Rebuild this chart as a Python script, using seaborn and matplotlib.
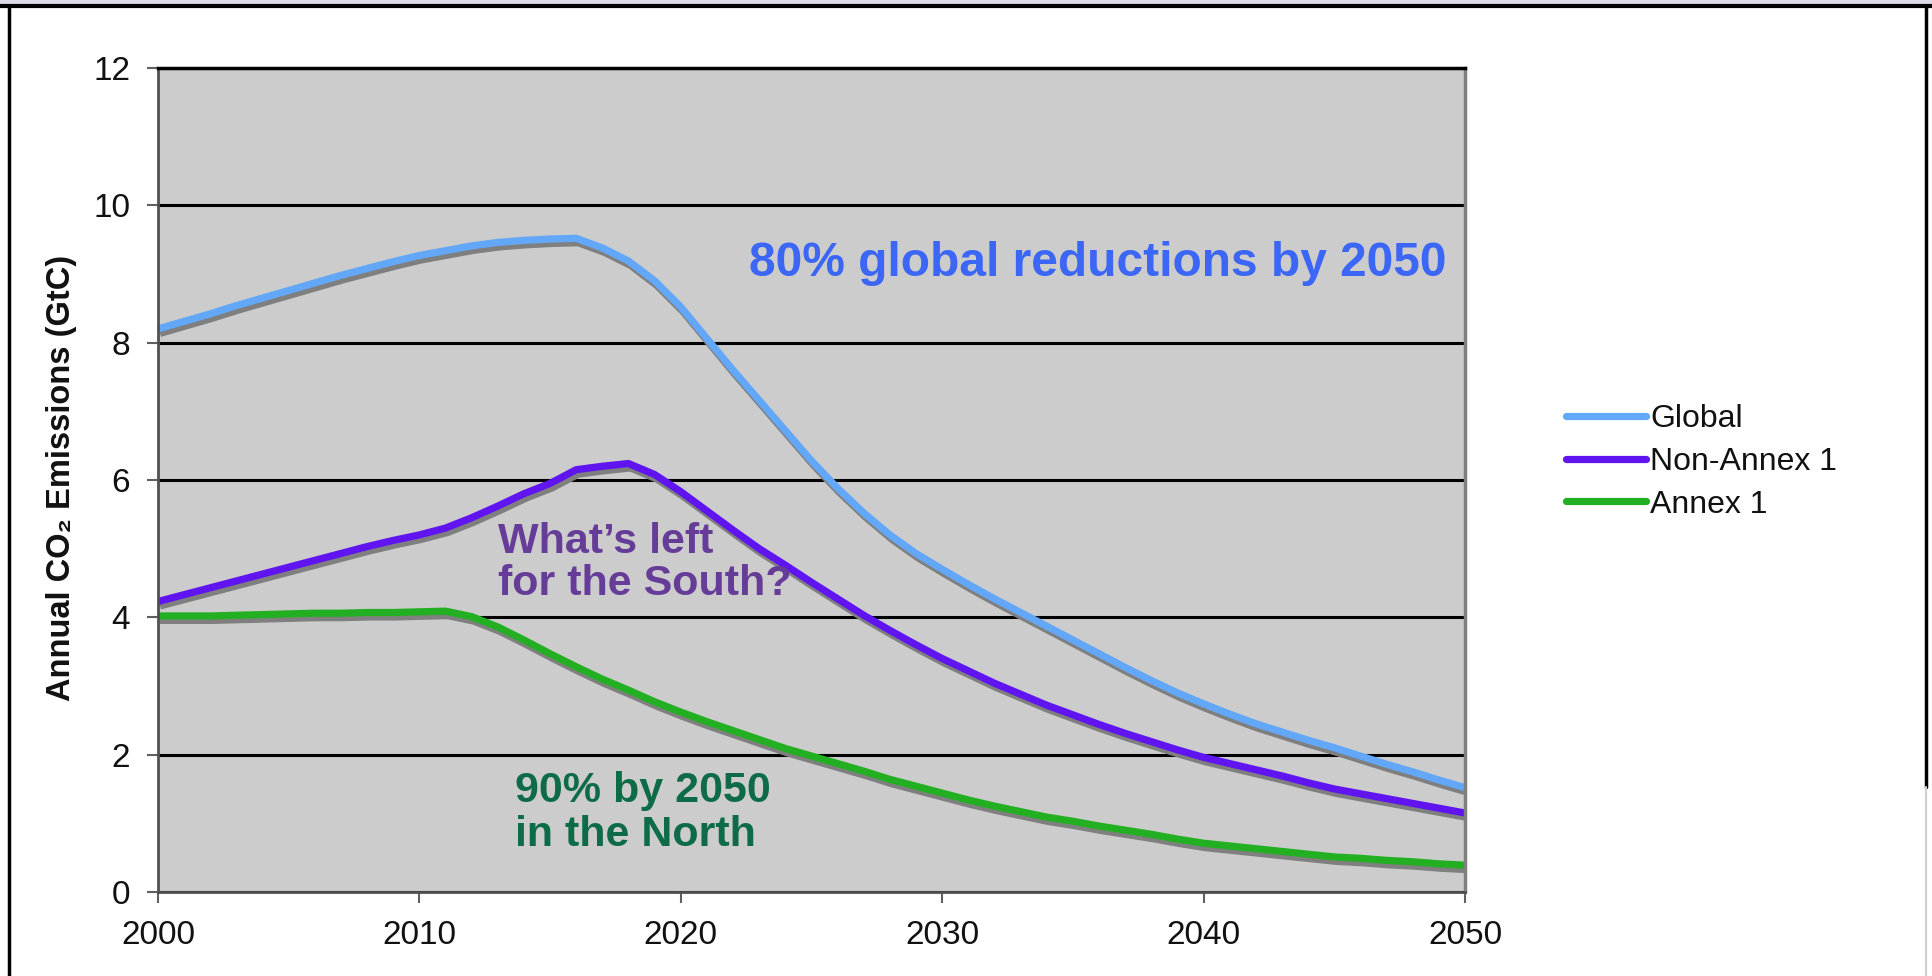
import matplotlib
matplotlib.use("Agg")
import numpy as np
import pandas as pd
import seaborn as sns
import matplotlib.pyplot as plt
from matplotlib import patheffects as pe
from matplotlib.lines import Line2D
from matplotlib.patches import Rectangle

# Annual CO2 emission pathways (GtC), 2000-2050
years = list(range(2000, 2051))

global_em = [8.20, 8.31, 8.42, 8.54, 8.65, 8.76, 8.87, 8.98, 9.08, 9.18,
             9.27, 9.34, 9.41, 9.46, 9.49, 9.51, 9.52, 9.38, 9.19, 8.90,
             8.52, 8.06, 7.60, 7.16, 6.72, 6.28, 5.88, 5.52, 5.20, 4.93,
             4.70, 4.48, 4.27, 4.07, 3.87, 3.67, 3.47, 3.27, 3.08, 2.90,
             2.74, 2.59, 2.45, 2.33, 2.21, 2.10, 1.98, 1.86, 1.75, 1.63,
             1.52]

non_annex1 = [4.23, 4.33, 4.43, 4.53, 4.63, 4.73, 4.83, 4.93, 5.03, 5.12,
              5.20, 5.30, 5.45, 5.62, 5.80, 5.95, 6.15, 6.20, 6.24, 6.08,
              5.83, 5.55, 5.27, 5.00, 4.76, 4.51, 4.27, 4.03, 3.81, 3.60,
              3.40, 3.22, 3.04, 2.88, 2.72, 2.58, 2.44, 2.31, 2.19, 2.07,
              1.96, 1.87, 1.78, 1.69, 1.59, 1.50, 1.43, 1.36, 1.29, 1.22,
              1.15]

annex1 = [4.02, 4.02, 4.02, 4.03, 4.04, 4.05, 4.06, 4.06, 4.07, 4.07,
          4.08, 4.09, 4.01, 3.86, 3.67, 3.47, 3.28, 3.10, 2.94, 2.77,
          2.62, 2.48, 2.35, 2.22, 2.09, 1.98, 1.87, 1.76, 1.64, 1.54,
          1.44, 1.34, 1.25, 1.17, 1.09, 1.03, 0.96, 0.90, 0.84, 0.77,
          0.71, 0.67, 0.63, 0.59, 0.55, 0.51, 0.49, 0.46, 0.44, 0.41,
          0.39]

series_names = ["Global", "Non-Annex 1", "Annex 1"]
series_colors = ["#63A8F8", "#5F14F0", "#22B022"]

x_ticks = [2000, 2010, 2020, 2030, 2040, 2050]
y_ticks = [0, 2, 4, 6, 8, 10, 12]

df = pd.DataFrame({"year": years,
                   "Global": global_em,
                   "Non-Annex 1": non_annex1,
                   "Annex 1": annex1})
long_df = df.melt(id_vars="year", var_name="series", value_name="emissions")

sns.set_theme(style="white")
plt.rcParams["font.family"] = ["Liberation Sans", "DejaVu Sans"]

fig = plt.figure(figsize=(19.33, 9.76), dpi=100)
fig.patch.set_facecolor("white")
ax = fig.add_axes([0.0817, 0.0861, 0.6762, 0.8442])

sns.lineplot(data=long_df, x="year", y="emissions", hue="series",
             hue_order=series_names, palette=series_colors,
             linewidth=5.2, legend=False, ax=ax)

# grey drop shadow under each curve
for line in ax.lines:
    line.set_solid_joinstyle("round")
    line.set_solid_capstyle("butt")
    line.set_path_effects([
        pe.SimpleLineShadow(offset=(1.5, -3.2), shadow_color="#7f7f7f", alpha=1.0),
        pe.Normal(),
    ])

ax.set_xlim(2000, 2050)
ax.set_ylim(0, 12)
ax.set_xticks(x_ticks)
ax.set_yticks(y_ticks)
ax.set_facecolor("#CCCCCC")
ax.yaxis.grid(True, color="black", linewidth=2.2)
ax.xaxis.grid(False)
ax.set_axisbelow(True)

ax.tick_params(axis="both", direction="out", length=8, width=1.5,
               color="#606060", labelsize=24, labelcolor="#111111", pad=12,
               left=True, bottom=True)

for side, col, lw in [("left", "#505050", 2.0), ("bottom", "#505050", 2.0),
                      ("right", "#808080", 2.5), ("top", "black", 2.5)]:
    ax.spines[side].set_visible(True)
    ax.spines[side].set_color(col)
    ax.spines[side].set_linewidth(lw)

ax.set_xlabel("")
ax.set_ylabel("Annual CO\u2082 Emissions (GtC)", fontsize=23.5, fontweight="bold",
              color="#111111")
ax.yaxis.set_label_coords(-0.062, 0.502)

# annotations
ax.text(2022.6, 9.15, "80% global reductions by 2050", color="#3B66F6",
        fontsize=34.5, fontweight="bold", ha="left", va="center")
ax.text(2013.0, 4.79, "What\u2019s left\nfor the South?", color="#663C99",
        fontsize=31, fontweight="bold", ha="left", va="center", linespacing=1.06)
ax.text(2013.66, 1.15, "90% by 2050\nin the North", color="#0E6B47",
        fontsize=31, fontweight="bold", ha="left", va="center", linespacing=1.12)

# legend
handles = [Line2D([], [], color=c, linewidth=5.2) for c in series_colors]
fig.legend(handles, series_names, loc="center left",
           bbox_to_anchor=(0.810, 0.5269), frameon=False, fontsize=23,
           handlelength=2.5, handletextpad=0.15, labelspacing=0.40,
           borderpad=0, borderaxespad=0, labelcolor="#111111")

# slide frame
fig.add_artist(Rectangle((0, 0.994), 1, 0.006, transform=fig.transFigure,
                         facecolor="#DCDAE4", edgecolor="none"))
fig.add_artist(Line2D([0, 1], [0.9935, 0.9935], transform=fig.transFigure,
                      color="black", linewidth=3))
fig.add_artist(Line2D([0.0047, 0.0047], [0, 0.9935], transform=fig.transFigure,
                      color="black", linewidth=2.5))
fig.add_artist(Line2D([0.9964, 0.9964], [0.1936, 0.9935], transform=fig.transFigure,
                      color="black", linewidth=2.5))
fig.add_artist(Line2D([0.9964, 0.9964], [0, 0.1936], transform=fig.transFigure,
                      color="#d0d0d0", linewidth=1.5))

fig.savefig("out.png", dpi=100, facecolor="white")
